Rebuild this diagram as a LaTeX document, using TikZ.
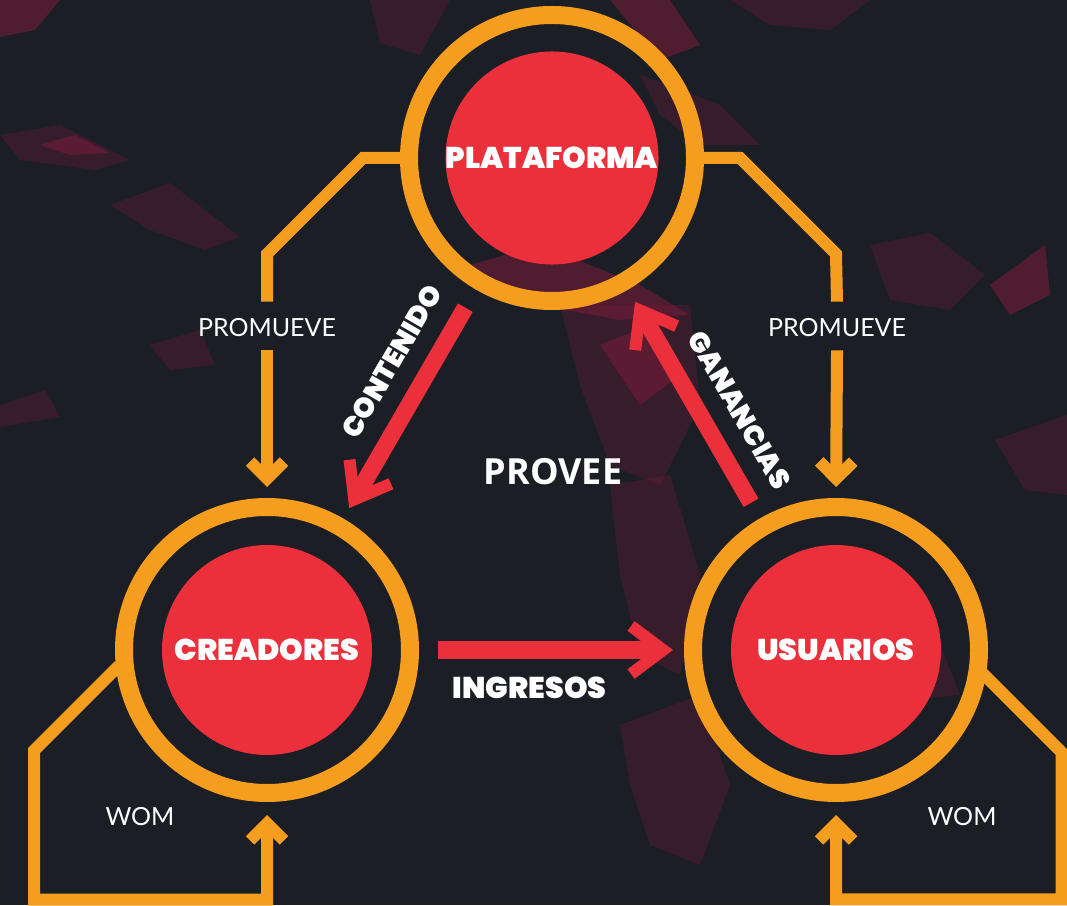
\documentclass[tikz,border=0pt]{standalone}
\usepackage{fontspec}
\setmainfont{Lato}
\newfontfamily\heavyfont{Poppins Black}
\newfontfamily\semifont{Open Sans}
\usepackage{xcolor}
\definecolor{bgdark}{HTML}{1B1E25}
\definecolor{foilred}{HTML}{7A1C3A}
\definecolor{ringorange}{HTML}{F59D1E}
\definecolor{discred}{HTML}{EB2F3B}
\usetikzlibrary{arrows.meta,calc}
\tikzset{
  ring/.style={circle, draw=ringorange, line width=18pt, minimum size=286pt, inner sep=0pt},
  disc/.style={
    circle, fill=discred, minimum size=210pt, inner sep=0pt,
    text=white, font=\heavyfont\fontsize{30}{30}\selectfont
  },
  promline/.style={draw=ringorange, line width=12pt, line join=miter, shorten <=-4pt},
  promarrow/.style={promline, -{Straight Barb[length=17pt, width=34pt]}},
  flowarrow/.style={draw=discred, line width=17pt, -{Straight Barb[length=32pt, width=48pt, line width=12pt]}},
  flowlabel/.style={text=white, inner sep=0pt, font=\heavyfont\fontsize{28}{28}\selectfont},
  promlabel/.style={text=white, inner xsep=4pt, inner ysep=17pt, font=\fontsize{25}{25}\selectfont},
  foil/.style={fill=foilred, opacity=0.30},
  foildeep/.style={fill=foilred, opacity=0.55}
}

\begin{document}
\begin{tikzpicture}[x=1pt,y=1pt]
  \useasboundingbox (0,0) rectangle (1067,905);
  \fill[bgdark] (0,0) rectangle (1067,905);

  % crumpled foil highlights
  \fill[foildeep] (0,905) -- (60,905) -- (35,875) -- (0,868) -- cycle;
  \fill[foil] (0,770) -- (60,780) -- (130,745) -- (95,735) -- (20,745) -- cycle;
  \fill[foildeep] (40,760) -- (75,770) -- (110,752) -- (70,750) -- cycle;
  \fill[foil] (110,700) -- (170,722) -- (240,668) -- (205,655) -- (150,675) -- cycle;
  \fill[foil] (0,500) -- (45,515) -- (60,488) -- (0,478) -- cycle;
  \fill[foil] (150,560) -- (200,575) -- (215,540) -- (170,535) -- cycle;
  \fill[foil] (370,905) -- (450,905) -- (420,850) -- (380,862) -- cycle;
  \fill[foildeep] (610,905) -- (670,905) -- (700,860) -- (660,845) -- cycle;
  \fill[foil] (640,830) -- (720,800) -- (760,760) -- (700,760) -- (660,790) -- cycle;
  \fill[foildeep] (470,640) -- (540,660) -- (640,620) -- (690,590) -- (620,585) -- (540,600) -- cycle;
  \fill[foil] (560,600) -- (690,600) -- (700,500) -- (660,420) -- (610,440) -- (580,520) -- cycle;
  \fill[foildeep] (600,560) -- (650,580) -- (680,530) -- (640,500) -- cycle;
  \fill[foil] (610,420) -- (670,430) -- (700,330) -- (680,230) -- (640,250) -- (620,330) -- cycle;
  \fill[foil] (870,660) -- (930,672) -- (985,630) -- (950,595) -- (890,605) -- cycle;
  \fill[foildeep] (990,620) -- (1045,660) -- (1050,610) -- (1010,590) -- cycle;
  \fill[foil] (995,465) -- (1067,490) -- (1067,410) -- (1025,415) -- cycle;
  \fill[foil] (620,180) -- (700,210) -- (730,120) -- (700,40) -- (650,60) -- (630,120) -- cycle;
  \fill[foil] (730,905) -- (870,905) -- (830,875) -- (770,880) -- cycle;
  \fill[foil] (880,240) -- (940,260) -- (960,210) -- (910,205) -- cycle;

  \node[ring] (platring) at (552,747) {};
  \node[disc] (plat) at (platring) {PLATAFORMA};
  \node[ring] (crearing) at (267,255) {};
  \node[disc] (crea) at (crearing) {CREADORES};
  \node[ring] (usring) at (836,255) {};
  \node[disc] (usu) at (usring) {USUARIOS};

  \node[promlabel] (promL) at (267,577) {PROMUEVE};
  \node[promlabel] (promR) at (837,577) {PROMUEVE};
  \node[promlabel] (womL) at (140,88) {WOM};
  \node[promlabel] (womR) at (962,88) {WOM};
  \node[text=white, font=\semifont\bfseries\fontsize{36}{36}\selectfont] (provee) at (553,433) {PROVEE};

  \draw[promline] (platring.west) -- ++(-37,0) -- ++(-96,-96) -- (promL.north);
  \draw[promarrow, shorten >=11pt] (promL.south) -- (crearing.north);
  \draw[promline] (platring.east) -- ++(36,0) -- ++(96,-96) -- (promR.north);
  \draw[promarrow, shorten >=11pt] (promR.south) -- (usring.north);

  \draw[promarrow, shorten >=13pt] (crearing.187) -- ++(-82,-82) -- ++(0,-149) -| (crearing.south);
  \draw[promarrow, shorten >=13pt] (usring.350) -- ++(76,-76) -- ++(0,-147) -| (usring.south);

  \draw[flowarrow] ($(platring)!173pt!(crearing)$)
    -- node[flowlabel, sloped, pos=0.36, above=18pt] (contenido) {CONTENIDO} ($(crearing)!164pt!(platring)$);
  \draw[flowarrow] ($(usring)!170pt!(platring)$)
    -- node[flowlabel, sloped, pos=0.37, above=18pt] (ganancias) {GANANCIAS} ($(platring)!166pt!(usring)$);
  \draw[flowarrow] ($(crearing)!171pt!(usring)$)
    -- node[flowlabel, pos=0.39, below=18pt, font=\heavyfont\fontsize{30}{30}\selectfont] (ingresos) {INGRESOS} ($(usring)!163pt!(crearing)$);
\end{tikzpicture}
\end{document}
